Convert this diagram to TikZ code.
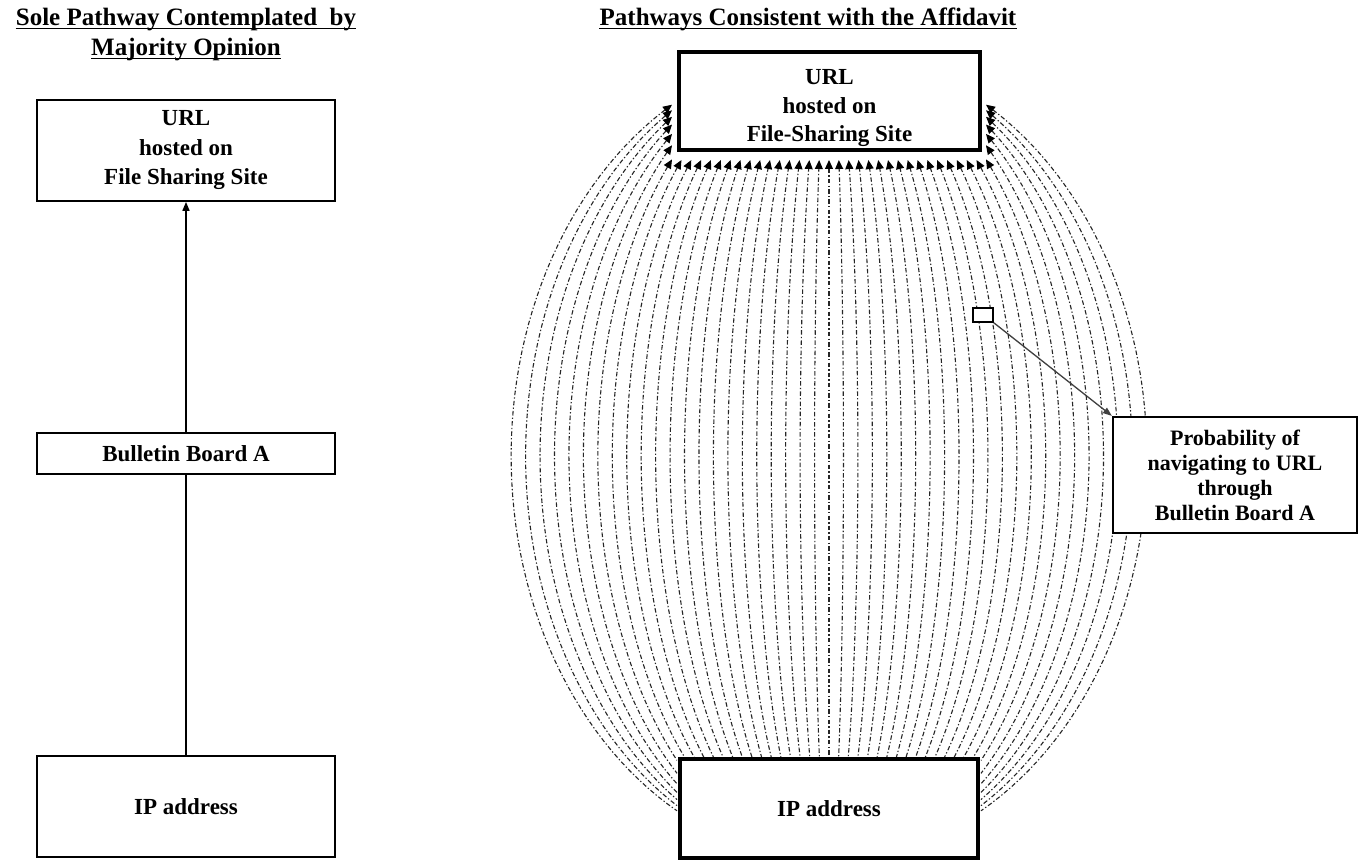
\documentclass[tikz,border=0pt]{standalone}
\usepackage{fontspec}
\setmainfont{Liberation Serif}
\usetikzlibrary{arrows.meta}
\begin{document}
\begin{tikzpicture}[x=1pt,y=1pt,
  titletxt/.style={font=\fontsize{25}{30}\selectfont\bfseries, inner sep=0pt, anchor=base},
  thinbox/.style={draw, line width=1.8pt, fill=white, inner sep=0pt, align=center,
    font=\fontsize{23}{29.5}\selectfont\bfseries},
  thickbox/.style={draw, line width=3.6pt, fill=white, inner sep=0pt, align=center,
    font=\fontsize{23}{29.5}\selectfont\bfseries},
  boxtext/.style={inner sep=0pt, align=center, font=\fontsize{23}{28.5}\selectfont\bfseries},
  solidarrow/.style={line width=1.6pt, -{Triangle[length=9pt,width=7pt]}},
  solidline/.style={line width=1.6pt},
  meridian/.style={line width=1.1pt, black!85,
    dash pattern=on 4.5pt off 2.2pt on 1.3pt off 2.2pt,
    {Triangle[length=9pt,width=8pt,black]}-},
  pointer/.style={line width=1.3pt, black!75, -{Triangle[length=9pt,width=6.5pt]}}
]
\useasboundingbox (0,0) rectangle (1365,861);
\fill[white] (0,0) rectangle (1365,861);

% ---------- titles ----------
\node[titletxt] (t1) at (186,835) {Sole Pathway Contemplated\ \ by};
\node[titletxt] (t2) at (186,805) {Majority Opinion};
\node[titletxt] (t3) at (808,835) {Pathways Consistent with the Affidavit};
\foreach \t in {t1,t2,t3}{
  \draw[line width=1.4pt] ([yshift=-2.6pt]\t.base west) -- ([yshift=-2.6pt]\t.base east);
}

% ---------- left column ----------
\node[thinbox, minimum width=298pt, minimum height=101pt] (lurl) at (186,710.5)
  {URL\\hosted on\\File Sharing Site};
\node[thinbox, minimum width=298pt, minimum height=41pt] (lbb) at (186,407.5)
  {Bulletin Board A};
\node[thinbox, minimum width=298pt, minimum height=101pt] (lip) at (186,54.5)
  {IP address};
\draw[solidarrow] (lbb.north) -- (lurl.south);
\draw[solidline] (lip.north) -- (lbb.south);

% ---------- right: meridians ----------
\coordinate (mtop) at (829,701);
\coordinate (mbot) at (829,104);
\draw[meridian] (mtop) -- (mbot);
\foreach \k in {1,...,22}{
  \pgfmathsetmacro\a{14.45*\k}
  \pgfmathsetmacro\pt{min(42.9,asin(min(1,157/\a)))}
  \pgfmathsetmacro\pb{max(138.2,180-asin(min(1,152/\a)))}
  \foreach \s in {-1,1}{
    \draw[meridian] plot[domain=\pt:\pb,samples=60,variable=\t]
      ({829+(\s)*\a*sin(\t)},{405+404*cos(\t)});
  }
}

% ---------- right: boxes ----------
\node[thickbox, minimum width=301pt, minimum height=98pt] (rurl) at (829.5,760) {};
\node[boxtext] (rurltxt) at (829.5,752.5) {URL\\hosted on\\File-Sharing Site};
\node[thickbox, minimum width=298pt, minimum height=99pt] (rip) at (829,52.5) {IP address};

\node[draw, line width=1.6pt, fill=white, minimum width=20pt, minimum height=14pt, inner sep=0pt] (probe) at (983,546) {};
\node[draw, line width=2.2pt, fill=white, inner sep=0pt, align=center,
  minimum width=244pt, minimum height=116pt,
  font=\fontsize{22}{25}\selectfont\bfseries] (prob) at (1235,386)
  {Probability of\\navigating to URL\\through\\Bulletin Board A};
\draw[pointer] (probe.south east) -- (prob.north west);
\end{tikzpicture}
\end{document}
